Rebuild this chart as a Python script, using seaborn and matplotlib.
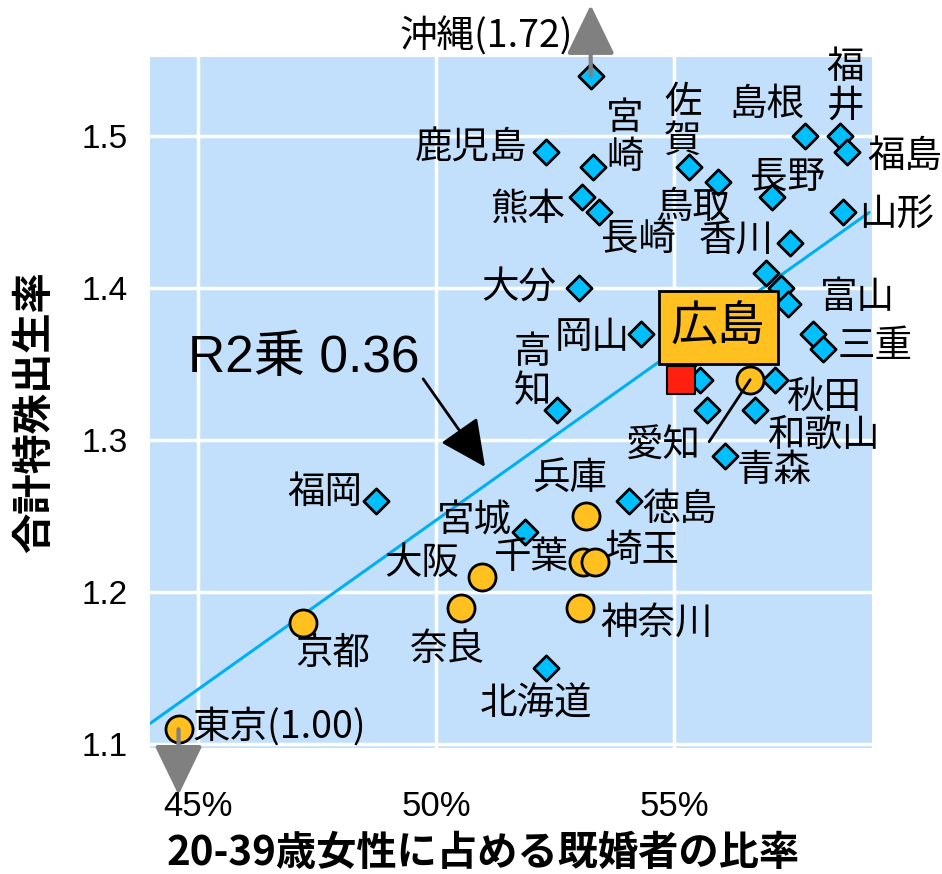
import numpy as np
import pandas as pd
import seaborn as sns
import matplotlib.pyplot as plt

# values (x: % of married women aged 20-39, y: total fertility rate)
okinawa_actual = 1.72
tokyo_actual = 1.00

diamond_names = ['沖縄', '鹿児島', '宮崎', '佐賀', '熊本', '長崎', '大分', '岡山', '高知',
                 '鳥取', '島根', '福井', '福島', '長野', '山形', '香川', '', '', '富山', '',
                 '三重', '', '', '', '秋田', '', '和歌山', '青森', '徳島', '宮城', '北海道', '福岡']
diamond_x = [53.25, 52.31, 53.30, 55.31, 53.06, 53.43, 53.00, 54.30, 52.55,
             55.92, 57.75, 58.49, 58.63, 57.06, 58.55, 57.44, 56.93, 57.25, 57.39, 57.92,
             58.13, 56.39, 55.21, 55.55, 57.12, 55.69, 56.70, 56.07, 54.06, 51.87, 52.31, 48.74]
diamond_y = [1.54, 1.49, 1.48, 1.48, 1.46, 1.45, 1.40, 1.37, 1.32,
             1.47, 1.50, 1.50, 1.49, 1.46, 1.45, 1.43, 1.41, 1.40, 1.39, 1.37,
             1.36, 1.39, 1.35, 1.34, 1.34, 1.32, 1.32, 1.29, 1.26, 1.24, 1.15, 1.26]

circle_names = ['愛知', '兵庫', '千葉', '埼玉', '大阪', '奈良', '神奈川', '京都', '東京']
circle_x = [56.60, 53.15, 53.08, 53.34, 50.96, 50.52, 53.03, 47.21, 44.59]
circle_y = [1.34, 1.25, 1.22, 1.22, 1.21, 1.19, 1.19, 1.18, 1.11]

hiroshima_x = [55.15]
hiroshima_y = [1.34]

trend_x = [44.0, 59.1]
trend_y = [1.114, 1.450]
r_squared = 0.36

x_ticks = [45, 50, 55]
x_tick_labels = ['45%', '50%', '55%']
y_ticks = [1.1, 1.2, 1.3, 1.4, 1.5]
y_tick_labels = ['1.1', '1.2', '1.3', '1.4', '1.5']

# label placement: name -> (dx px, dy px, ha)
label_pos = {
    '沖縄': (-18, 39, 'right'), '鹿児島': (-19, 4, 'right'), '宮崎': (32, 29, 'center'),
    '佐賀': (-6, 45, 'center'), '島根': (-38, 32, 'center'), '福井': (5, 50, 'center'),
    '福島': (20, -5, 'left'), '長野': (15, 20, 'center'), '山形': (16, -2, 'left'),
    '香川': (-17, 3, 'right'), '鳥取': (-25, -25, 'center'), '熊本': (-17, -12, 'right'),
    '長崎': (39, -27, 'center'), '大分': (-22, 0, 'right'), '岡山': (-11, -3, 'right'),
    '高知': (-25, 38, 'center'), '富山': (32, 6, 'left'), '三重': (15, 3, 'left'),
    '秋田': (12, -18, 'left'), '和歌山': (12, -25, 'left'), '青森': (12, -15, 'left'),
    '徳島': (13, -8, 'left'), '宮城': (-13, 11, 'right'), '北海道': (-10, -36, 'center'),
    '福岡': (-14, 9, 'right'), '愛知': (-49, -66, 'right'), '兵庫': (-16, 38, 'center'),
    '千葉': (-15, 5, 'right'), '埼玉': (10, 12, 'left'), '大阪': (-22, 14, 'right'),
    '奈良': (-14, -42, 'center'), '神奈川': (20, -15, 'left'), '京都': (30, -30, 'center'),
    '東京': (14, 2, 'left'),
}
vertical = ['宮崎', '佐賀', '福井', '高知']

sns.set_style('darkgrid', {'axes.facecolor': '#C2E0FC', 'grid.color': 'white'})
plt.rcParams['font.family'] = ['Noto Sans CJK JP', 'DejaVu Sans']
plt.rcParams['text.color'] = 'black'
plt.rcParams['xtick.color'] = 'black'
plt.rcParams['ytick.color'] = 'black'

fig = plt.figure(figsize=(9.42, 8.74), dpi=100)
ax = fig.add_axes([0.1592, 0.1442, 0.7665, 0.7906])

sns.lineplot(x=trend_x, y=trend_y, color='#00B0F0', lw=2.2, ax=ax, zorder=2)

df_d = pd.DataFrame({'name': diamond_names, 'x': diamond_x, 'y': diamond_y})
df_c = pd.DataFrame({'name': circle_names, 'x': circle_x, 'y': circle_y})
sns.scatterplot(data=df_d, x='x', y='y', marker='D', s=165, color='#00BFFF',
                edgecolor='black', linewidth=2, ax=ax, zorder=3)
sns.scatterplot(data=df_c, x='x', y='y', marker='o', s=380, color='#FFC020',
                edgecolor='black', linewidth=2, ax=ax, zorder=4)
sns.scatterplot(x=hiroshima_x, y=hiroshima_y, marker='s', s=384, color='#FF2010',
                edgecolor='black', linewidth=1.5, ax=ax, zorder=5)

# prefecture labels
for df in (df_d, df_c):
    for _, r in df.iterrows():
        if r['name'] not in label_pos:
            continue
        dx, dy, ha = label_pos[r['name']]
        txt = r['name']
        if txt == '沖縄':
            txt = f'沖縄({okinawa_actual:.2f})'
        elif txt == '東京':
            txt = f'東京({tokyo_actual:.2f})'
        elif txt in vertical:
            txt = '\n'.join(txt)
        ax.annotate(txt, (r['x'], r['y']), xytext=(dx, dy), textcoords='offset pixels',
                    ha=ha, va='center', fontsize=27, linespacing=1.0, zorder=6,
                    color='black', annotation_clip=False)

# leader line for 愛知
ai = circle_names.index('愛知')
ax.annotate('', (circle_x[ai], circle_y[ai]), xytext=(-41, -62), textcoords='offset pixels',
            arrowprops=dict(arrowstyle='-', color='black', lw=2, shrinkA=0, shrinkB=0), zorder=6)

# 広島 box
ax.annotate('広島', (hiroshima_x[0], hiroshima_y[0]), xytext=(37, 52), textcoords='offset pixels',
            ha='center', va='center', fontsize=34, color='black', zorder=8,
            bbox=dict(boxstyle='square,pad=0.26', fc='#FFC020', ec='black', lw=2))

# out-of-range arrows (沖縄 above, 東京 below)
ok = diamond_names.index('沖縄')
ax.annotate('', (diamond_x[ok], 1.5865), xytext=(diamond_x[ok], diamond_y[ok]),
            arrowprops=dict(arrowstyle='-|>,head_length=1.55,head_width=0.75', mutation_scale=20,
                            color='#808080', lw=3, shrinkA=0, shrinkB=0),
            annotation_clip=False, zorder=7)
tk = circle_names.index('東京')
ax.annotate('', (circle_x[tk], 1.0668), xytext=(circle_x[tk], circle_y[tk]),
            arrowprops=dict(arrowstyle='-|>,head_length=1.55,head_width=0.75', mutation_scale=20,
                            color='#808080', lw=3, shrinkA=0, shrinkB=0),
            annotation_clip=False, zorder=7)

# R squared callout
ax.annotate('', (51.03, 1.2826), xytext=(49.73, 1.3405),
            arrowprops=dict(arrowstyle='-|>,head_length=1.45,head_width=0.7', mutation_scale=20,
                            color='black', lw=2, shrinkA=0, shrinkB=0), zorder=6)
ax.text(44.79, 1.354, f'R2乗 {r_squared:.2f}', ha='left', va='center', fontsize=37,
        family=['Liberation Sans', 'Noto Sans CJK JP'], color='black', zorder=6)

ax.set_xlim(43.99, 59.16)
ax.set_ylim(1.0977, 1.5523)
ax.set_xticks(x_ticks)
ax.set_xticklabels(x_tick_labels, fontsize=25, family=['Liberation Sans'])
ax.set_yticks(y_ticks)
ax.set_yticklabels(y_tick_labels, fontsize=24, family=['Liberation Sans'])
ax.tick_params(axis='x', length=0, pad=30)
ax.tick_params(axis='y', length=0, pad=16)
ax.grid(True, color='white', lw=2.5)
ax.set_axisbelow(True)
ax.set_xlabel('')
ax.set_ylabel('')
for s in ax.spines.values():
    s.set_visible(False)

fig.text(0.5127, 0.024, '20-39歳女性に占める既婚者の比率', ha='center', va='center',
         fontsize=29, fontweight='bold', color='black')
fig.text(0.037, 0.5286, '合計特殊出生率', ha='center', va='center', rotation=90,
         fontsize=29, fontweight='bold', color='black')

fig.savefig('out.png', dpi=100)
